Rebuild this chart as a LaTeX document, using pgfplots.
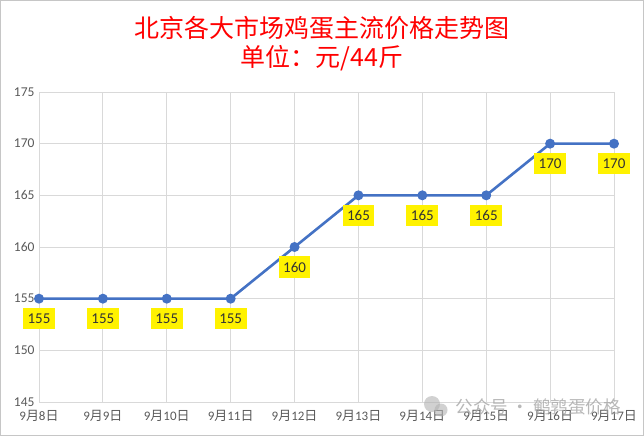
\documentclass[border=0pt]{standalone}
\usepackage{pgfplots}
\pgfplotsset{compat=1.18}
\usepackage{fontspec}
\setmainfont{Carlito}
\newfontfamily\cjk{Noto Sans CJK SC}
\definecolor{serieblue}{HTML}{4472C4}
\definecolor{gridgray}{HTML}{D9D9D9}
\definecolor{ticktext}{HTML}{595959}
\definecolor{titlered}{HTML}{FF0000}

\pgfplotstableread{
x  price
0  155
1  155
2  155
3  155
4  160
5  165
6  165
7  165
8  170
9  170
}\eggprice

\begin{document}
\begin{tikzpicture}[x=1pt,y=1pt]
\path[use as bounding box] (0,0) rectangle (644,436);
\draw[gray!45, line width=1pt] (0.5,0.5) rectangle (643.5,435.5);

\node[text=titlered, font=\cjk\fontsize{25}{28}\selectfont] at (322,408) {北京各大市场鸡蛋主流价格走势图};
\node[text=titlered, font=\cjk\fontsize{25}{28}\selectfont] at (322,378) {单位：元/44斤};

\begin{axis}[
  at={(39pt,34pt)}, anchor=south west,
  scale only axis, width=575pt, height=310pt,
  xmin=0, xmax=9, ymin=145, ymax=175,
  ytick={145,150,...,175},
  xtick=data,
  xticklabels={9{\cjk 月}8{\cjk 日},9{\cjk 月}9{\cjk 日},9{\cjk 月}10{\cjk 日},9{\cjk 月}11{\cjk 日},9{\cjk 月}12{\cjk 日},9{\cjk 月}13{\cjk 日},9{\cjk 月}14{\cjk 日},9{\cjk 月}15{\cjk 日},9{\cjk 月}16{\cjk 日},9{\cjk 月}17{\cjk 日}},
  grid=major,
  major grid style={gridgray, line width=0.8pt},
  axis line style={draw=none},
  tick style={draw=none},
  /pgf/number format/assume math mode=true,
  yticklabel style={text=ticktext, font=\fontsize{13.5}{15}\selectfont, xshift=-1pt},
  xticklabel style={text=ticktext, font=\fontsize{13}{14}\selectfont, yshift=-5pt},
  clip=false,
]
\addplot[serieblue, line width=2.6pt, mark=*, mark size=3.6pt,
  nodes near coords,
  every node near coord/.append style={anchor=center, yshift=-20pt, fill=yellow,
    text=black!80, font=\fontsize{15}{16}\selectfont, inner xsep=4.5pt,
    minimum height=21pt, /pgf/number format/assume math mode=true},
] table[x=x, y=price] {\eggprice};
\end{axis}

\fill[gray!60, opacity=0.6] (432,32) circle (8);
\fill[gray!60, opacity=0.6] (441,26) circle (6.5);
\node[text=gray!70, opacity=0.8, font=\cjk\fontsize{17.5}{20}\selectfont, anchor=west] at (452,29) {公众号 · 鹌鹑蛋价格};
\end{tikzpicture}
\end{document}
